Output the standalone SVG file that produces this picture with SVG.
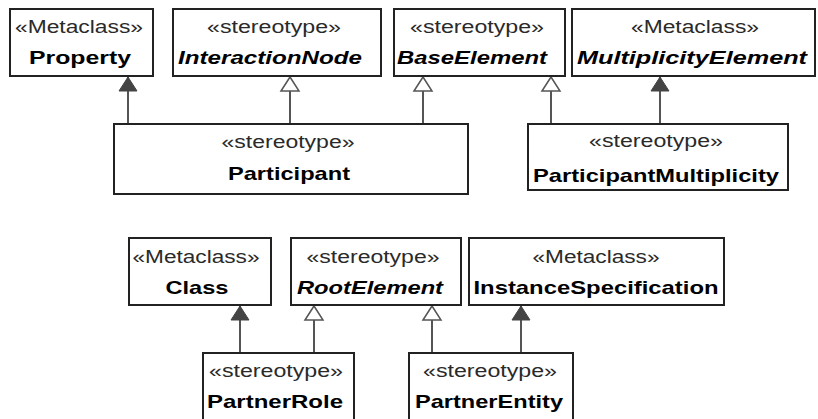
<svg xmlns="http://www.w3.org/2000/svg" width="818" height="419" viewBox="0 0 818 419">
  <style>
    .box { fill: #ffffff; stroke: #222222; stroke-width: 2; }
    .st { font-family: "Liberation Sans", Arial, sans-serif; font-size: 17.5px; fill: #2a2a2a; text-anchor: middle; }
    .nm { font-family: "Liberation Sans", Arial, sans-serif; font-size: 19px; font-weight: bold; fill: #000000; text-anchor: middle; }
    .it { font-style: italic; }
    .edge { stroke: #555555; stroke-width: 2; fill: none; }
    .ext { marker-end: url(#filled); }
    .gen { marker-end: url(#hollow); }
  </style>
  <defs>
    <!-- extension: filled triangle -->
    <marker id="filled" markerUnits="userSpaceOnUse" markerWidth="16" markerHeight="20" refX="14" refY="9" orient="auto" overflow="visible">
      <path d="M0,0 L14,9 L0,18 Z" fill="#444444" stroke="#444444" stroke-width="1"/>
    </marker>
    <!-- generalization: hollow triangle -->
    <marker id="hollow" markerUnits="userSpaceOnUse" markerWidth="16" markerHeight="20" refX="14" refY="9" orient="auto" overflow="visible">
      <path d="M0,0 L14,9 L0,18 Z" fill="#ffffff" stroke="#555555" stroke-width="1.5"/>
    </marker>
  </defs>

  <g id="connectors">
    <line class="edge ext" x1="128" y1="123" x2="128" y2="77"/>
    <line class="edge gen" x1="290" y1="123" x2="290" y2="77"/>
    <line class="edge gen" x1="423" y1="123" x2="423" y2="77"/>
    <line class="edge gen" x1="551" y1="123" x2="551" y2="77"/>
    <line class="edge ext" x1="660" y1="123" x2="660" y2="77"/>
    <line class="edge ext" x1="240" y1="352" x2="240" y2="306"/>
    <line class="edge gen" x1="314" y1="352" x2="314" y2="306"/>
    <line class="edge gen" x1="432" y1="352" x2="432" y2="306"/>
    <line class="edge ext" x1="521" y1="352" x2="521" y2="306"/>
  </g>

  <g id="Property">
    <rect class="box" x="10" y="9" width="143" height="67"/>
    <text class="st" x="79" y="33" textLength="128" lengthAdjust="spacingAndGlyphs">«Metaclass»</text>
    <text class="nm" x="80" y="64" textLength="102" lengthAdjust="spacingAndGlyphs">Property</text>
  </g>

  <g id="InteractionNode">
    <rect class="box" x="173" y="9" width="208" height="67"/>
    <text class="st" x="274" y="33" textLength="134" lengthAdjust="spacingAndGlyphs">«stereotype»</text>
    <text class="nm it" x="270" y="64" textLength="184" lengthAdjust="spacingAndGlyphs">InteractionNode</text>
  </g>

  <g id="BaseElement">
    <rect class="box" x="394" y="9" width="171" height="67"/>
    <text class="st" x="477" y="33" textLength="134" lengthAdjust="spacingAndGlyphs">«stereotype»</text>
    <text class="nm it" x="472" y="64" textLength="150" lengthAdjust="spacingAndGlyphs">BaseElement</text>
  </g>

  <g id="MultiplicityElement">
    <rect class="box" x="572" y="9" width="243" height="67"/>
    <text class="st" x="695" y="33" textLength="128" lengthAdjust="spacingAndGlyphs">«Metaclass»</text>
    <text class="nm it" x="692" y="64" textLength="230" lengthAdjust="spacingAndGlyphs">MultiplicityElement</text>
  </g>

  <g id="Participant">
    <rect class="box" x="114" y="124" width="354" height="70"/>
    <text class="st" x="288" y="148" textLength="133" lengthAdjust="spacingAndGlyphs">«stereotype»</text>
    <text class="nm" x="289" y="180" textLength="122" lengthAdjust="spacingAndGlyphs">Participant</text>
  </g>

  <g id="ParticipantMultiplicity">
    <rect class="box" x="528" y="124" width="260" height="66"/>
    <text class="st" x="656" y="147" textLength="134" lengthAdjust="spacingAndGlyphs">«stereotype»</text>
    <text class="nm" x="656" y="182" textLength="246" lengthAdjust="spacingAndGlyphs">ParticipantMultiplicity</text>
  </g>

  <g id="Class">
    <rect class="box" x="129" y="238" width="142" height="67"/>
    <text class="st" x="196" y="263" textLength="127" lengthAdjust="spacingAndGlyphs">«Metaclass»</text>
    <text class="nm" x="197" y="294" textLength="63" lengthAdjust="spacingAndGlyphs">Class</text>
  </g>

  <g id="RootElement">
    <rect class="box" x="291" y="238" width="170" height="67"/>
    <text class="st" x="373" y="263" textLength="133" lengthAdjust="spacingAndGlyphs">«stereotype»</text>
    <text class="nm it" x="370" y="294" textLength="146" lengthAdjust="spacingAndGlyphs">RootElement</text>
  </g>

  <g id="InstanceSpecification">
    <rect class="box" x="469" y="238" width="255" height="67"/>
    <text class="st" x="596" y="263" textLength="127" lengthAdjust="spacingAndGlyphs">«Metaclass»</text>
    <text class="nm" x="596" y="294" textLength="245" lengthAdjust="spacingAndGlyphs">InstanceSpecification</text>
  </g>

  <g id="PartnerRole">
    <rect class="box" x="203" y="353" width="151" height="80"/>
    <text class="st" x="276" y="377" textLength="134" lengthAdjust="spacingAndGlyphs">«stereotype»</text>
    <text class="nm" x="275" y="408" textLength="136" lengthAdjust="spacingAndGlyphs">PartnerRole</text>
  </g>

  <g id="PartnerEntity">
    <rect class="box" x="409" y="353" width="164" height="80"/>
    <text class="st" x="490" y="377" textLength="134" lengthAdjust="spacingAndGlyphs">«stereotype»</text>
    <text class="nm" x="489" y="408" textLength="148" lengthAdjust="spacingAndGlyphs">PartnerEntity</text>
  </g>
</svg>
